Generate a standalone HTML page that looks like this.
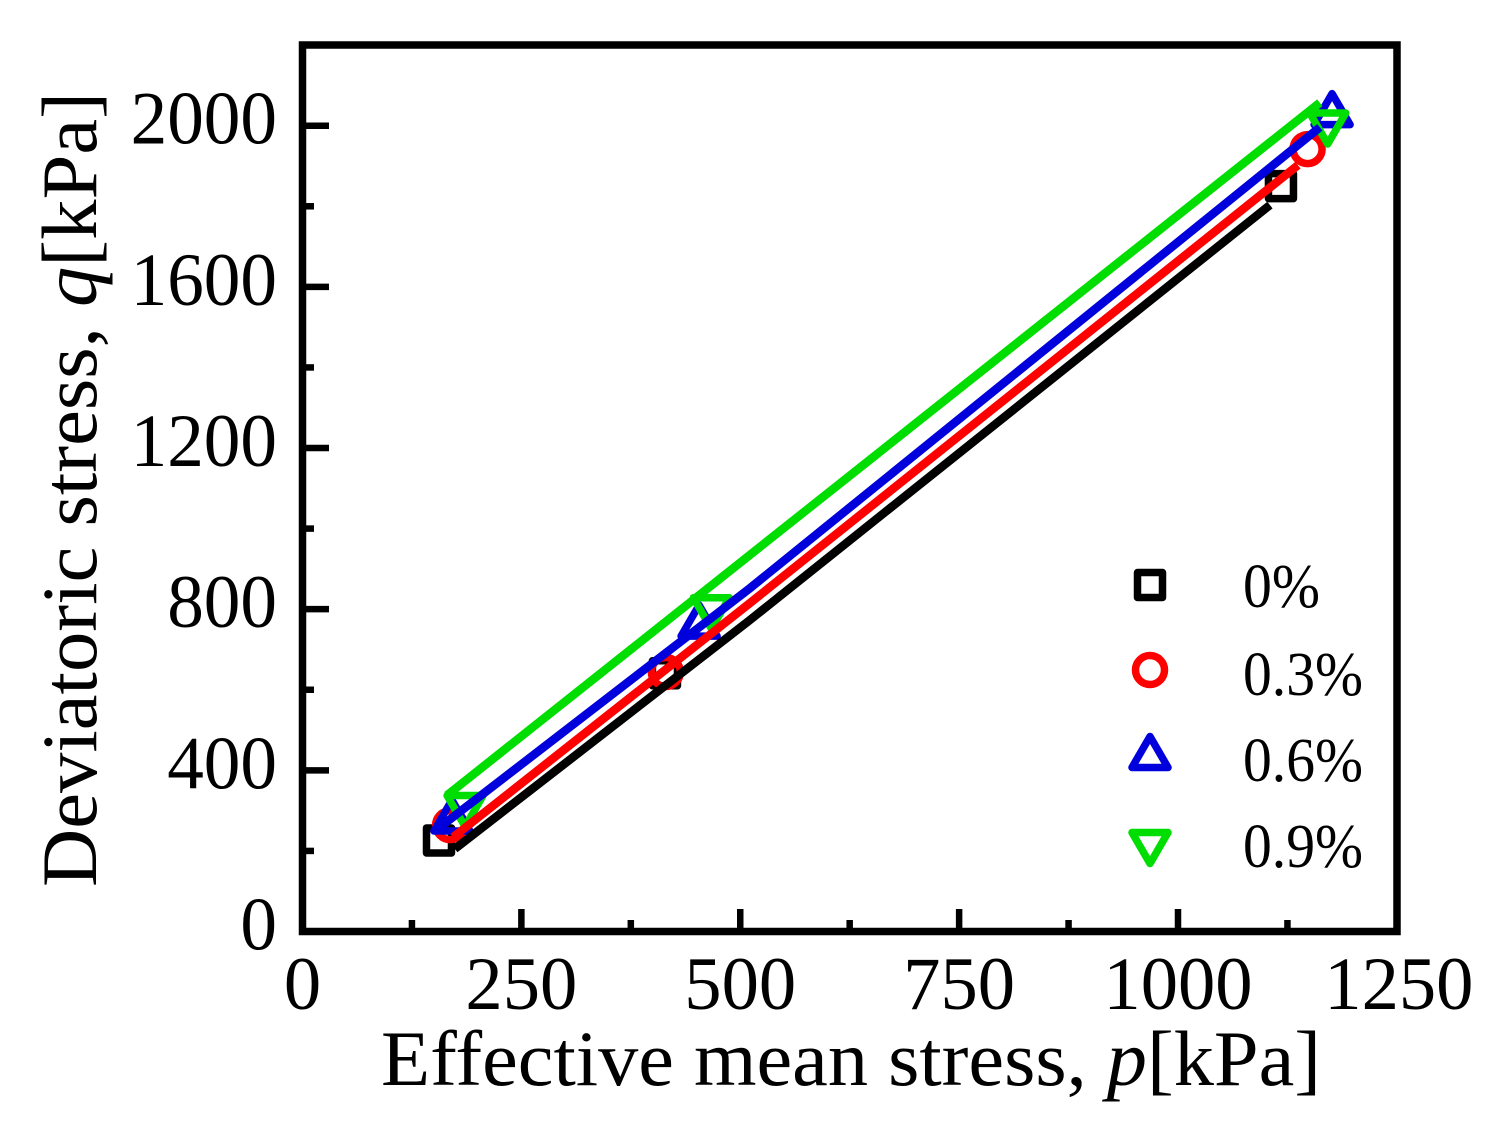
<!DOCTYPE html>
<html lang="en">
<head>
<meta charset="utf-8">
<title>Deviatoric stress vs effective mean stress</title>
<style>
html,body{margin:0;padding:0;background:#fff;}
svg{display:block;}
text{font-family:"Liberation Serif",serif;fill:#000;}
</style>
</head>
<body>
<svg id="chart" xmlns="http://www.w3.org/2000/svg" width="1502" height="1146" viewBox="0 0 1502 1146">
  <rect x="0" y="0" width="1502" height="1146" fill="#fff"/>
  <g id="marker-layer"></g>
  <g id="line-layer"></g>
  <g id="axes-layer"></g>
  <rect x="302.5" y="45" width="1094.5" height="886.5" fill="none" stroke="#000" stroke-width="7.5"/>
  <text x="381" y="1085" font-size="78" textLength="940" lengthAdjust="spacingAndGlyphs">Effective mean stress, <tspan font-style="italic">p</tspan>[kPa]</text>
  <text transform="translate(96,887) rotate(-90)" x="0" y="0" font-size="78" textLength="795" lengthAdjust="spacingAndGlyphs">Deviatoric stress, <tspan font-style="italic">q</tspan>[kPa]</text>
  <g id="legend-layer"></g>
</svg>
<script>
const xTickValues = [0, 250, 500, 750, 1000, 1250];
const yTickValues = [0, 400, 800, 1200, 1600, 2000];
const xMinorValues = [125, 375, 625, 875, 1125];
const yMinorValues = [200, 600, 1000, 1400, 1800];

const seriesNames = ['0%', '0.3%', '0.6%', '0.9%'];
const seriesColors = ['#000000', '#ff0000', '#0000dd', '#00dd00'];
const seriesShapes = ['square', 'circle', 'triangle-up', 'triangle-down'];

const pointsP0 = [155.9, 414, 1117.6];
const pointsQ0 = [226, 641, 1850];
const pointsP3 = [168.6, 415, 1148];
const pointsQ3 = [264, 644, 1942];
const pointsP6 = [170.7, 453, 1176];
const pointsQ6 = [288, 771.6, 2041];
const pointsP9 = [185.7, 467, 1171];
const pointsQ9 = [299, 790, 1993];

const lineP0 = [174, 511, 1105];
const lineQ0 = [205, 773, 1803];
const lineP3 = [172, 511, 1137];
const lineQ3 = [234, 815, 1902];
const lineP6 = [151, 511, 1162];
const lineQ6 = [249, 852, 1996];
const lineP9 = [165, 1162];
const lineQ9 = [338, 2057];

const allPointsP = [pointsP0, pointsP3, pointsP6, pointsP9];
const allPointsQ = [pointsQ0, pointsQ3, pointsQ6, pointsQ9];
const allLineP = [lineP0, lineP3, lineP6, lineP9];
const allLineQ = [lineQ0, lineQ3, lineQ6, lineQ9];

const SVG_NS = 'http://www.w3.org/2000/svg';
function xScale(p) { return 302.5 + p * 0.8755; }
function yScale(q) { return 931.5 - q * 0.4029; }

function make(tag, parent) {
  const el = document.createElementNS(SVG_NS, tag);
  parent.appendChild(el);
  return el;
}

function drawMarker(parent, shape, cx, cy, color) {
  let el;
  if (shape === 'square') {
    el = make('rect', parent);
    el.setAttribute('x', cx - 12.5);
    el.setAttribute('y', cy - 12.5);
    el.setAttribute('width', 25);
    el.setAttribute('height', 25);
  } else if (shape === 'circle') {
    el = make('circle', parent);
    el.setAttribute('cx', cx);
    el.setAttribute('cy', cy);
    el.setAttribute('r', 14.5);
  } else if (shape === 'triangle-up') {
    el = make('polygon', parent);
    el.setAttribute('points', cx + ',' + (cy - 15.5) + ' ' + (cx + 18) + ',' + (cy + 15.5) + ' ' + (cx - 18) + ',' + (cy + 15.5));
  } else {
    el = make('polygon', parent);
    el.setAttribute('points', cx + ',' + (cy + 15.5) + ' ' + (cx + 18) + ',' + (cy - 15.5) + ' ' + (cx - 18) + ',' + (cy - 15.5));
  }
  el.setAttribute('fill', 'none');
  el.setAttribute('stroke', color);
  el.setAttribute('stroke-width', 7.5);
  el.setAttribute('stroke-linejoin', 'round');
  
  
  return el;
}

const axes = document.getElementById('axes-layer');

function drawTick(x1, y1, x2, y2, name) {
  const t = make('line', axes);
  t.setAttribute('x1', x1);
  t.setAttribute('y1', y1);
  t.setAttribute('x2', x2);
  t.setAttribute('y2', y2);
  t.setAttribute('stroke', '#000');
  t.setAttribute('stroke-width', 6.5);
  
  
}

function drawLabel(str, x, y, anchor, size, perChar, name) {
  const t = make('text', axes);
  t.textContent = str;
  t.setAttribute('x', x);
  t.setAttribute('y', y);
  t.setAttribute('font-size', size);
  t.setAttribute('text-anchor', anchor);
  t.setAttribute('textLength', str.length * perChar);
  t.setAttribute('lengthAdjust', 'spacingAndGlyphs');
  
  
}

xTickValues.forEach(function (v) {
  drawTick(xScale(v), 931.5, xScale(v), 909, 'x-major-tick');
  drawLabel(String(v), xScale(v) + (v === 1250 ? 2 : 0), 1009, 'middle', 75, 37.3, 'x-tick-label');
});
yTickValues.forEach(function (v) {
  drawTick(302.5, yScale(v), 329, yScale(v), 'y-major-tick');
  drawLabel(String(v), 277, yScale(v) + 18, 'end', 75, 36.6, 'y-tick-label');
});
xMinorValues.forEach(function (v) {
  drawTick(xScale(v), 931.5, xScale(v), 920, 'x-minor-tick');
});
yMinorValues.forEach(function (v) {
  drawTick(302.5, yScale(v), 314, yScale(v), 'y-minor-tick');
});

const markerLayer = document.getElementById('marker-layer');
const lineLayer = document.getElementById('line-layer');
seriesNames.forEach(function (name, i) {
  const g = make('g', markerLayer);
  
  
  allPointsP[i].forEach(function (p, j) {
    drawMarker(g, seriesShapes[i], xScale(p), yScale(allPointsQ[i][j]), seriesColors[i]);
  });
  const line = make('polyline', lineLayer);
  line.setAttribute('points', allLineP[i].map(function (p, j) {
    return xScale(p) + ',' + yScale(allLineQ[i][j]);
  }).join(' '));
  line.setAttribute('fill', 'none');
  line.setAttribute('stroke', seriesColors[i]);
  line.setAttribute('stroke-width', 8.5);
  
  
});

const legend = document.getElementById('legend-layer');
const legendMarkerY = [585, 670, 752, 848];
const legendTextY = [607, 695, 781, 867];
seriesNames.forEach(function (name, i) {
  const g = make('g', legend);
  
  
  drawMarker(g, seriesShapes[i], 1150, legendMarkerY[i], seriesColors[i]);
  const t = make('text', g);
  t.textContent = name;
  t.setAttribute('x', 1243);
  t.setAttribute('y', legendTextY[i]);
  t.setAttribute('font-size', 62);
  t.setAttribute('textLength', name.length === 2 ? 77 : 120);
  t.setAttribute('lengthAdjust', 'spacingAndGlyphs');
  
  
});
</script>
</body>
</html>
